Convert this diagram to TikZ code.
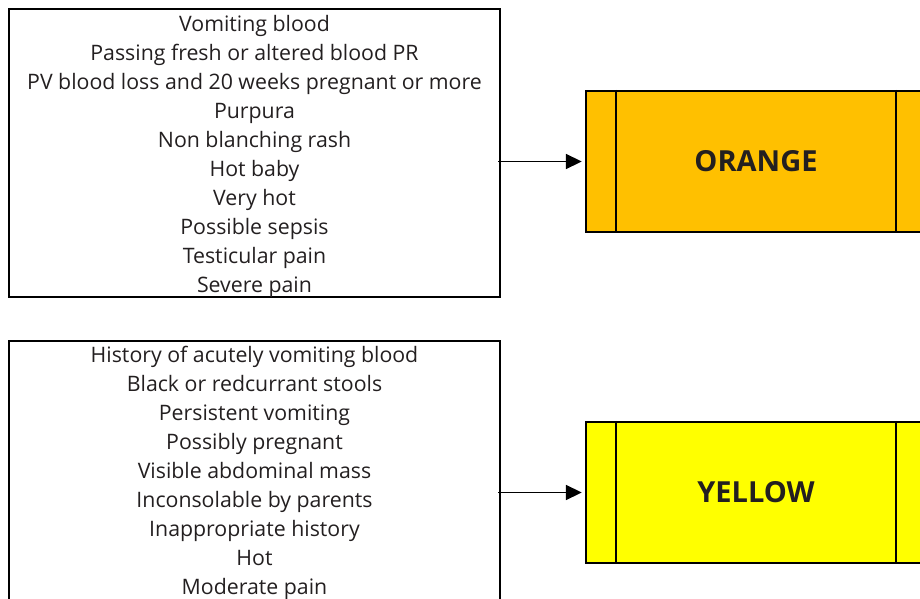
\documentclass[tikz,border=0pt]{standalone}
\usepackage{fontspec}
\setmainfont{Open Sans}
\usetikzlibrary{arrows.meta}
\definecolor{ink}{HTML}{231F20}
\definecolor{orangefill}{HTML}{FFC000}
\definecolor{yellowfill}{HTML}{FFFF00}
\begin{document}
\begin{tikzpicture}[x=1pt,y=-1pt,
  listframe/.style={draw=black, line width=2.4pt, minimum width=491pt, inner sep=0pt},
  listtext/.style={align=center, font=\fontsize{21.3}{29}\selectfont, text=ink, inner sep=0pt},
  levelbox/.style={draw=black, line width=2.4pt, minimum width=340pt, minimum height=141pt,
    inner sep=0pt, font=\fontsize{29}{34}\selectfont\bfseries, text=ink},
  sidebar/.style={draw=black, line width=2.4pt},
  feed/.style={draw=black, line width=1.8pt, shorten >=3pt,
    -{Triangle[length=16pt,width=15pt]}}]
\useasboundingbox (0,0) rectangle (920,599);
\clip (0,0) rectangle (920,599);

% discriminator lists
\node[listframe, minimum height=288pt] (listA) at (254.5,153) {};
\node[listtext] (listAtext) at (254.5,156) {Vomiting blood\\
  Passing fresh or altered blood PR\\
  PV blood loss and 20 weeks pregnant or more\\
  Purpura\\
  Non blanching rash\\
  Hot baby\\
  Very hot\\
  Possible sepsis\\
  Testicular pain\\
  Severe pain};

\node[listframe, minimum height=260pt] (listB) at (254.5,471) {};
\node[listtext] (listBtext) at (254.5,473) {History of acutely vomiting blood\\
  Black or redcurrant stools\\
  Persistent vomiting\\
  Possibly pregnant\\
  Visible abdominal mass\\
  Inconsolable by parents\\
  Inappropriate history\\
  Hot\\
  Moderate pain};

% priority categories
\node[levelbox, fill=orangefill] (orange) at (756,161.5) {\raisebox{-1pt}{ORANGE}};
\node[levelbox, fill=yellowfill] (yellow) at (756,492.5) {\raisebox{-1pt}{YELLOW}};

\foreach \n in {orange,yellow}{
  \draw[sidebar] ([xshift=31pt]\n.north west) -- ([xshift=31pt]\n.south west);
  \draw[sidebar] ([xshift=-31pt]\n.north east) -- ([xshift=-31pt]\n.south east);
}

% connectors
\draw[feed] ([xshift=-3pt]listA.east |- orange.west) -- (orange.west);
\draw[feed] ([xshift=-3pt]listB.east |- yellow.west) -- (yellow.west);
\end{tikzpicture}
\end{document}
